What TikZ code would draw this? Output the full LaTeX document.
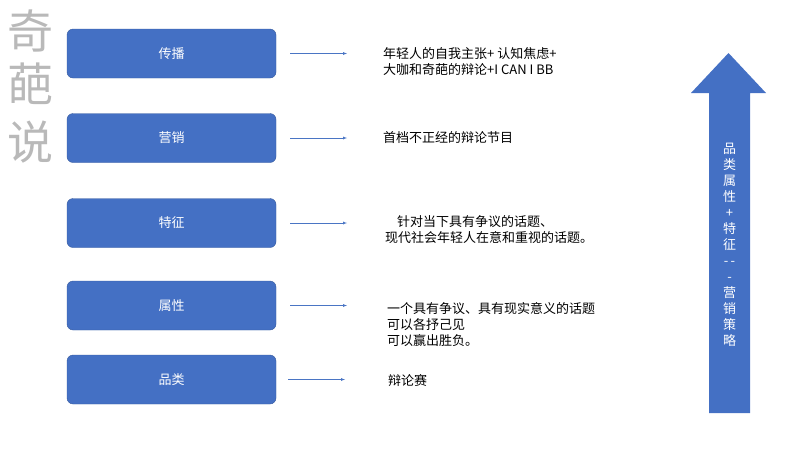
\documentclass[tikz,border=0pt]{standalone}
\usepackage{fontspec}
\setmainfont{Noto Sans CJK SC}
\definecolor{bx}{HTML}{4470C4}
\definecolor{ar}{HTML}{4A75C4}
\begin{document}
\begin{tikzpicture}[x=1pt,y=-1pt,
  bxs/.style={fill=bx,draw=bx!80!black,rounded corners=6pt,minimum width=209pt,minimum height=49pt,text=white,font=\fontsize{13}{13}\selectfont},
  con/.style={draw=ar,-latex,thin},
  tx/.style={anchor=west,font=\fontsize{13}{16}\selectfont,align=left,inner sep=0pt}]
\useasboundingbox (0,0) rectangle (809,448);
\node[font=\fontsize{46}{46}\selectfont,text=gray!55,inner sep=0pt] (t1) at (31,31) {奇};
\node[font=\fontsize{46}{46}\selectfont,text=gray!55,inner sep=0pt] (t2) at (31,84) {葩};
\node[font=\fontsize{46}{46}\selectfont,text=gray!55,inner sep=0pt] (t3) at (31,142) {说};
\node[bxs] (b1) at (171.5,53.5) {传播};
\node[bxs] (b2) at (171.5,138) {营销};
\node[bxs] (b3) at (171.5,223) {特征};
\node[bxs] (b4) at (171.5,305.5) {属性};
\node[bxs] (b5) at (171.5,379.5) {品类};
\coordinate (e1) at (347,53.5);
\coordinate (e2) at (347,138);
\coordinate (e3) at (347,223);
\coordinate (e4) at (347,305.5);
\coordinate (e5) at (345,379.5);
\draw[con] ([xshift=14pt]b1.east) -- (e1);
\draw[con] ([xshift=14pt]b2.east) -- (e2);
\draw[con] ([xshift=14pt]b3.east) -- (e3);
\draw[con] ([xshift=14pt]b4.east) -- (e4);
\draw[con] ([xshift=12pt]b5.east) -- (e5);
\node[tx] (x1) at (383,62) {年轻人的自我主张+ 认知焦虑+\\大咖和奇葩的辩论+I CAN I BB};
\node[tx] (x2) at (383,138) {首档不正经的辩论节目};
\node[tx] (x3) at (385,230) {\hspace*{12pt}针对当下具有争议的话题、\\现代社会年轻人在意和重视的话题。};
\node[tx] (x4) at (387,325) {一个具有争议、具有现实意义的话题\\可以各抒己见\\可以赢出胜负。};
\node[tx] (x5) at (388,381) {辩论赛};
\fill[bx] (709,413) -- (709,93) -- (691,93) -- (728.5,53) -- (766,93) -- (750,93) -- (750,413) -- cycle;
\node[text=white,font=\fontsize{13}{16}\selectfont,align=center,inner sep=0pt] (vt) at (729.5,245)
 {品\\类\\属\\性\\+\\特\\征\\-\,-\\-\\营\\销\\策\\略};
\end{tikzpicture}
\end{document}
